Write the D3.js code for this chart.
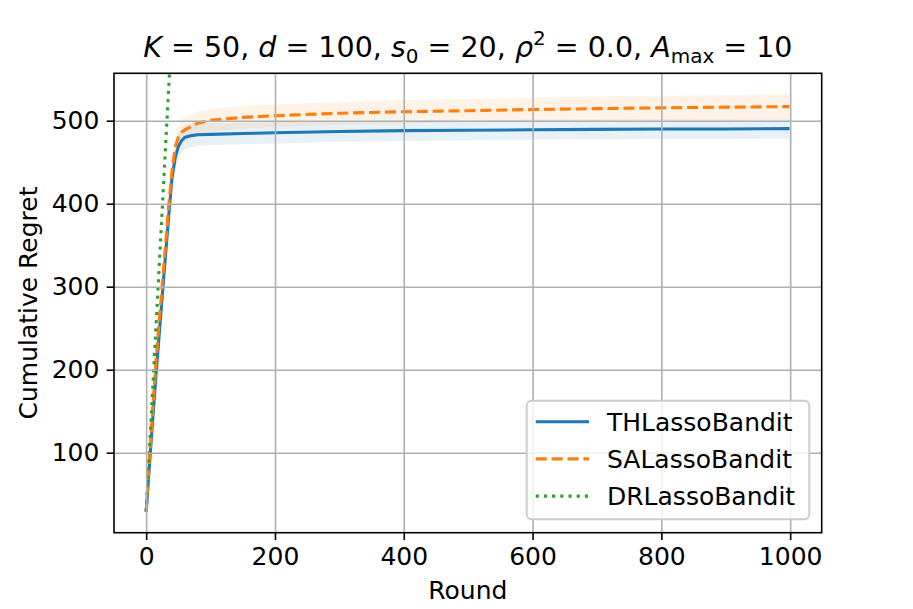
<!DOCTYPE html>
<html>
<head>
<meta charset="utf-8">
<script src="https://cdn.jsdelivr.net/npm/d3@7"></script>
<style>
  body { margin: 0; background: #fff; }
  text { font-family: "DejaVu Sans", sans-serif; fill: #000; }
</style>
</head>
<body>
<div id="chart"></div>
<script>
// data
var rounds = [0, 5, 10, 15, 20, 25, 30, 35, 40, 45, 50, 55, 60, 70, 80, 100, 150, 200, 300, 400, 500, 600, 700, 800, 900, 999];
var thMean = [29, 84, 138, 191, 240, 289, 337, 385, 430, 455, 469, 476, 480, 482, 483, 483.5, 484.5, 485.5, 487, 488, 488.5, 489, 489.5, 490, 490, 490.4];
var thStd  = [2, 3, 4, 5, 6, 6, 7, 8, 10, 13, 15, 15, 15, 14, 13.5, 13, 13, 13, 12.5, 12.5, 12, 12, 12, 12, 12, 12];
var saMean = [29, 90, 150, 208, 256, 303, 350, 398, 438, 468, 480, 486, 489, 493, 497, 500.5, 504, 506, 509, 510.8, 512, 513.5, 514.5, 515.5, 516.3, 517];
var saStd  = [2, 3, 4, 5, 6, 6, 7, 8, 10, 13, 15, 15, 15, 14, 14, 13.5, 13.5, 13.5, 13.5, 14, 14, 14, 14.5, 14.5, 14.5, 15];
var drRounds = [0, 10, 20, 30, 40, 50];
var drMean = [29, 175, 321, 467, 613, 759];

var xTicks = [0, 200, 400, 600, 800, 1000];
var yTicks = [100, 200, 300, 400, 500];
var seriesNames = ["THLassoBandit", "SALassoBandit", "DRLassoBandit"];
var colors = ["#1f77b4", "#ff7f0e", "#2ca02c"];
var dashes = [null, "11.1,4.8", "3.1,5.1"];

// plot area
var W = 913, H = 609;
var margin = {top: 73.3, right: 913 - 821.7, bottom: 609 - 532.7, left: 114};
var width = W - margin.left - margin.right,
    height = H - margin.top - margin.bottom;

var svg = d3.select("#chart")
  .append("svg")
    .attr("width", W)
    .attr("height", H);

var g = svg.append("g")
    .attr("transform", "translate(" + margin.left + "," + margin.top + ")");

var x = d3.scaleLinear().domain([-49.95, 1048.95]).range([0, width]);
var y = d3.scaleLinear().domain([3.6, 557.1]).range([height, 0]);

g.append("clipPath").attr("id", "clip")
  .append("rect").attr("width", width).attr("height", height);

var plot = g.append("g").attr("clip-path", "url(#clip)");

// shaded bands (under the grid, like matplotlib)
var area = d3.area()
  .x(function(d) { return x(d.r); })
  .y0(function(d) { return y(d.m - d.s); })
  .y1(function(d) { return y(d.m + d.s); });

var bandData = [
  rounds.map(function(r, i) { return {r: r, m: thMean[i], s: thStd[i]}; }),
  rounds.map(function(r, i) { return {r: r, m: saMean[i], s: saStd[i]}; })
];
bandData.forEach(function(b, i) {
  plot.append("path").datum(b)
    .attr("d", area)
    .attr("fill", colors[i])
    .attr("fill-opacity", 0.1);
});

// grid
var xAxisG = g.append("g")
  .attr("transform", "translate(0," + height + ")")
  .call(d3.axisBottom(x).tickValues(xTicks).tickSize(-height).tickFormat(""));
var yAxisG = g.append("g")
  .call(d3.axisLeft(y).tickValues(yTicks).tickSize(-width).tickFormat(""));
[xAxisG, yAxisG].forEach(function(a) {
  a.select(".domain").remove();
  a.selectAll("line").attr("stroke", "#b0b0b0").attr("stroke-width", 1.6);
});

// lines
var line = d3.line()
  .x(function(d) { return x(d[0]); })
  .y(function(d) { return y(d[1]); });

var lineData = [
  rounds.map(function(r, i) { return [r, thMean[i]]; }),
  rounds.map(function(r, i) { return [r, saMean[i]]; }),
  drRounds.map(function(r, i) { return [r, drMean[i]]; })
];
lineData.forEach(function(d, i) {
  plot.append("path").datum(d)
    .attr("d", line)
    .attr("fill", "none")
    .attr("stroke", colors[i])
    .attr("stroke-width", 3.1)
    .attr("stroke-dasharray", dashes[i]);
});

// axes with ticks and labels
var xAxis = g.append("g")
  .attr("transform", "translate(0," + height + ")")
  .call(d3.axisBottom(x).tickValues(xTicks).tickFormat(d3.format("d"))
    .tickSize(7.3).tickPadding(7.3).tickSizeOuter(0));
var yAxis = g.append("g")
  .call(d3.axisLeft(y).tickValues(yTicks).tickFormat(d3.format("d"))
    .tickSize(7.3).tickPadding(7.3).tickSizeOuter(0));
[xAxis, yAxis].forEach(function(a) {
  a.select(".domain").remove();
  a.selectAll("line").attr("stroke", "#000").attr("stroke-width", 1.6);
  a.selectAll("text")
    .style("font-family", "DejaVu Sans")
    .style("font-size", "25px")
    .attr("fill", "#000");
});

// spines
g.append("rect")
  .attr("width", width).attr("height", height)
  .attr("fill", "none").attr("stroke", "#000").attr("stroke-width", 1.6);

// axis labels
svg.append("text")
  .attr("x", margin.left + width / 2).attr("y", 599)
  .attr("text-anchor", "middle")
  .style("font-size", "25px")
  .text("Round");

svg.append("text")
  .attr("transform", "translate(37," + (margin.top + height / 2) + ") rotate(-90)")
  .attr("text-anchor", "middle")
  .style("font-size", "25px")
  .text("Cumulative Regret");

// title with math-style pieces
var title = svg.append("text")
  .attr("x", margin.left + width / 2).attr("y", 57)
  .attr("text-anchor", "middle")
  .style("font-size", "28.5px");
var parts = [
  ["K", "i"], [" = 50, ", ""], ["d", "i"], [" = 100, ", ""], ["s", "i"], ["0", "sub"],
  [" = 20, ", ""], ["ρ", "i"], ["2", "sup"], [" = 0.0, ", ""], ["A", "i"], ["max", "sub"], [" = 10", ""]
];
parts.forEach(function(p, i) {
  var t = title.append("tspan").text(p[0]);
  if (p[1] === "i") t.style("font-style", "italic");
  if (p[1] === "sub") t.style("font-size", "20px").attr("dy", 6);
  if (p[1] === "sup") t.style("font-size", "20px").attr("dy", -12);
  // back to the baseline after a shifted piece
  if (i > 0 && p[1] !== "sub" && p[1] !== "sup") {
    if (parts[i - 1][1] === "sub") t.attr("dy", -6);
    if (parts[i - 1][1] === "sup") t.attr("dy", 12);
  }
});

// legend
var legend = svg.append("g");
legend.append("rect")
  .attr("x", 526.7).attr("y", 400.7)
  .attr("width", 809.3 - 526.7).attr("height", 519.3 - 400.7)
  .attr("rx", 5).attr("ry", 5)
  .attr("fill", "#fff").attr("fill-opacity", 0.8)
  .attr("stroke", "#cccccc").attr("stroke-width", 2);

seriesNames.forEach(function(name, i) {
  var cy = 421.7 + i * 37.2;
  legend.append("line")
    .attr("x1", 535.7).attr("x2", 589)
    .attr("y1", cy).attr("y2", cy)
    .attr("stroke", colors[i])
    .attr("stroke-width", 3.1)
    .attr("stroke-dasharray", dashes[i]);
  legend.append("text")
    .attr("x", 607).attr("y", cy)
    .attr("dy", "0.36em")
    .style("font-size", "25px")
    .text(name);
});
</script>
</body>
</html>
